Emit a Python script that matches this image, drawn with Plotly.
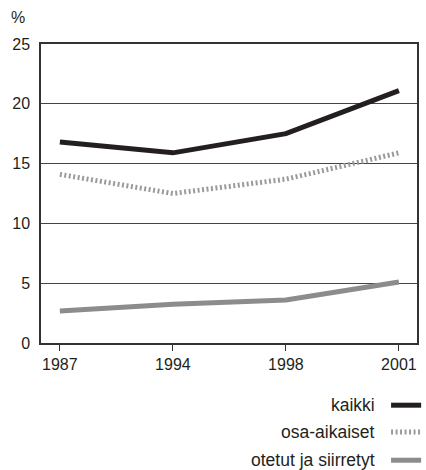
import plotly.graph_objects as go

years = ["1987", "1994", "1998", "2001"]
kaikki = [16.8, 15.9, 17.5, 21.1]
osa_aikaiset = [14.1, 12.5, 13.7, 15.9]
otetut = [2.67, 3.25, 3.6, 5.1]
series_names = ["kaikki", "osa-aikaiset", "otetut ja siirretyt"]
y_ticks = [0, 5, 10, 15, 20, 25]

colors = ["#231f20", "#9a9a9a", "#8c8c8c"]
dashes = ["solid", "2px,2.5px", "solid"]
values = [kaikki, osa_aikaiset, otetut]

fig = go.Figure()
for name, vals, c, d in zip(series_names, values, colors, dashes):
    fig.add_trace(go.Scatter(x=years, y=vals, mode="lines", name=name,
                             line=dict(color=c, width=5, dash=d), showlegend=False))

# manual legend (text left of symbol)
leg_y = [-0.208, -0.298, -0.392]
for name, c, d, yy in zip(series_names, colors, dashes, leg_y):
    fig.add_annotation(x=0.894, y=yy, xref="paper", yref="paper", text=name,
                       showarrow=False, xanchor="right", yanchor="middle",
                       font=dict(size=17.5, color="#231f20"))
    fig.add_shape(type="line", xref="paper", yref="paper", x0=0.931, x1=1.011,
                  y0=yy, y1=yy, line=dict(color=c, width=5, dash=d))

fig.add_annotation(x=-0.06, y=1.09, xref="paper", yref="paper", text="%",
                   showarrow=False, xanchor="center", yanchor="middle",
                   font=dict(size=16, color="#231f20"))

fig.update_layout(
    width=426, height=470,
    margin=dict(l=41, r=7, t=44, b=127),
    paper_bgcolor="white", plot_bgcolor="white",
    font=dict(family="Liberation Sans, Arial, sans-serif", size=16, color="#231f20"),
)
fig.update_xaxes(type="category", range=[-0.167, 3.16], showline=True, mirror=True,
                 linecolor="#333", linewidth=1.5, ticks="outside", ticklen=6,
                 tickcolor="#333", showgrid=False, tickfont=dict(size=16))
fig.update_yaxes(range=[0, 25], tickvals=y_ticks, showline=True, mirror=True,
                 linecolor="#333", linewidth=1.5, ticks="", showgrid=True,
                 gridcolor="#444", gridwidth=1, zeroline=False, tickfont=dict(size=16),
                 ticklabelstandoff=6)

fig.write_html("out.html", config={"displayModeBar": False},
               post_script="document.body.style.margin='0';")
